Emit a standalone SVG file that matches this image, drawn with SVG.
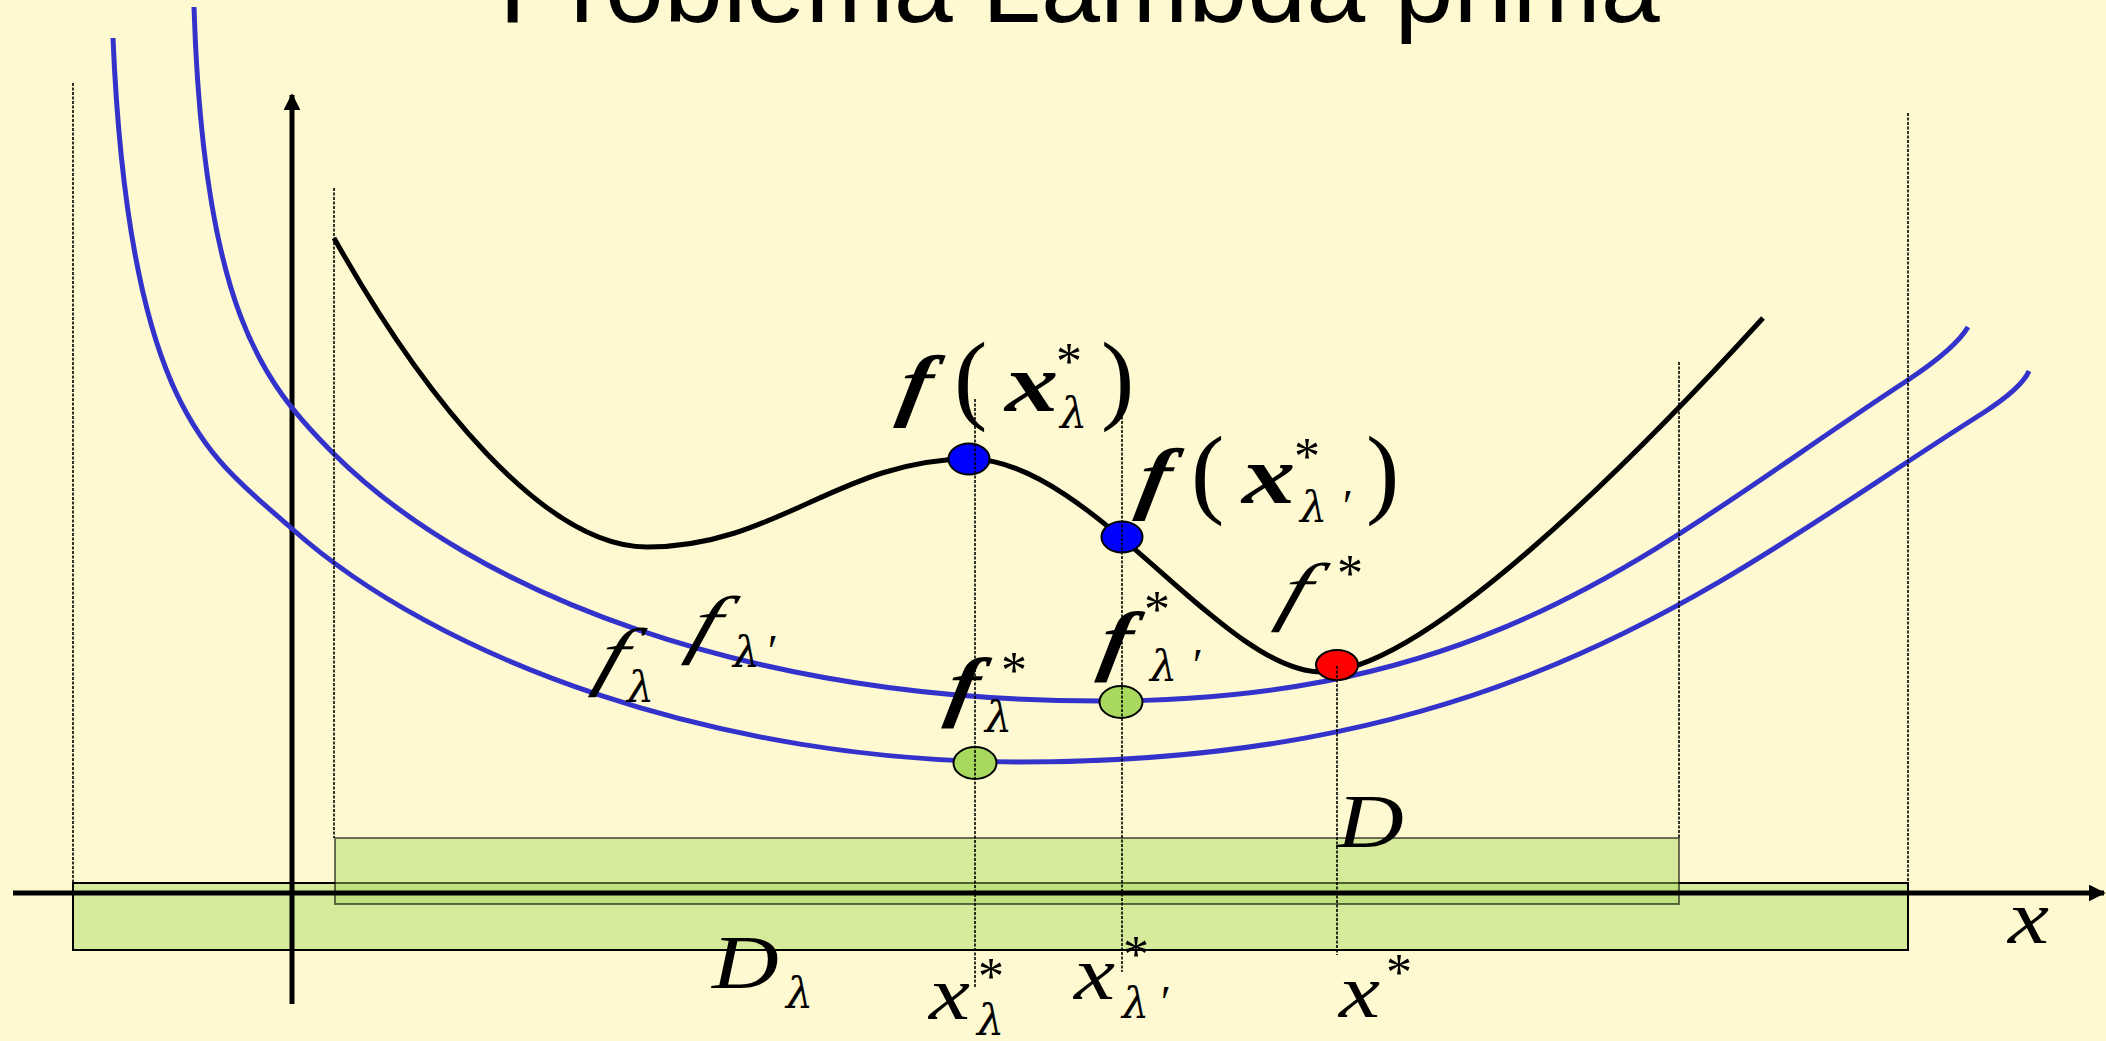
<svg xmlns="http://www.w3.org/2000/svg" width="2106" height="1041" viewBox="0 0 2106 1041">
<style>
.m{font-family:"Liberation Serif","Times New Roman",serif;font-style:italic;fill:#000}
.l{font-family:"DejaVu Serif","Liberation Serif",serif;font-style:italic;fill:#000;font-size:43px}
.s{font-family:"Liberation Serif","Times New Roman",serif;font-style:normal;fill:#000;font-size:52px}
.b{font-weight:bold}
.up{font-style:normal}
.dot{stroke:#000;stroke-width:1.6;stroke-dasharray:3 1.5;fill:none}
.blue{fill:none;stroke:#3333CC;stroke-width:5}
.blk{fill:none;stroke:#000;stroke-width:5}
.pt{stroke:#000;stroke-width:2}
</style>
<defs>
<marker id="ah" viewBox="0 0 10 10" refX="9" refY="5" markerWidth="3.4" markerHeight="3.4" orient="auto" markerUnits="strokeWidth">
<path d="M0,0 L10,5 L0,10 z" fill="#000"/>
</marker>
</defs>
<rect x="0" y="0" width="2106" height="1041" fill="#FEF9D0"/>
<text x="499" y="22" font-family="Liberation Sans, Arial, sans-serif" font-size="106" fill="#000">Problema Lambda prima</text>

<g id="domains">
<rect id="D-lambda" x="73" y="883" width="1835" height="67" fill="#A5D65B" fill-opacity="0.45" stroke="#000" stroke-width="2"/>
<rect id="D" x="335" y="838" width="1344" height="66" fill="#A5D65B" fill-opacity="0.45" stroke="#000" stroke-opacity="0.55" stroke-width="2"/>
</g>

<g id="connectors">
<line x1="13" y1="893" x2="2104" y2="893" stroke="#000" stroke-width="5" marker-end="url(#ah)"/>
<line x1="292" y1="1004" x2="292" y2="95" stroke="#000" stroke-width="5" marker-end="url(#ah)"/>
</g>

<g id="curves">
<path id="f" class="blk" d="M334,238 C425,400 545,547 647,547 C777,547 840,459 970,459 C1090,459 1222,672 1322,672 C1422,672 1628,466 1763,318"/>
<path id="f-lambda-prime" class="blue" d="M194,7 C203.5,307 262,382 333,453 C474,594 750,701 1100,701 C1500,701 1657,544 1908,380 C1929,366 1958,344 1968,327"/>
<path id="f-lambda" class="blue" d="M113,38 C129,418 215.7,460 290,527 C438.6,660.8 720,762 1020,762 C1520,762 1729,573 1983,413 C2000,402 2023,385 2029,371"/>
</g>

<g id="points">
<ellipse id="p-fxl" cx="969" cy="459" rx="20.5" ry="15.5" fill="#0000FF" class="pt"/>
<ellipse id="p-fxlp" cx="1122" cy="537" rx="20.5" ry="15.5" fill="#0000FF" class="pt"/>
<ellipse id="p-fstar" cx="1337" cy="665" rx="21" ry="15" fill="#FF0000" class="pt"/>
<ellipse id="p-fl" cx="975" cy="763" rx="21.5" ry="16" fill="#A8D95E" class="pt"/>
<ellipse id="p-flp" cx="1121" cy="702" rx="21.5" ry="16" fill="#A8D95E" class="pt"/>
</g>

<g id="guides">
<line class="dot" x1="73" y1="83" x2="73" y2="883"/>
<line class="dot" x1="334" y1="188" x2="334" y2="838"/>
<line class="dot" x1="975" y1="399" x2="975" y2="987"/>
<line class="dot" x1="1122" y1="385" x2="1122" y2="972"/>
<line class="dot" x1="1337" y1="666" x2="1337" y2="955"/>
<line class="dot" x1="1679" y1="362" x2="1679" y2="838"/>
<line class="dot" x1="1908" y1="113" x2="1908" y2="883"/>
</g>

<g id="label-fxl">
<text class="m b" font-size="80" transform="translate(896,411) skewX(-10) scale(1.2,1)">f</text>
<text class="m up" x="954" y="411" font-size="100">(</text>
<text class="m b" font-size="82" transform="translate(1005,411) scale(1.3,1)">x</text>
<text class="s" x="1056" y="379">*</text>
<text class="l" x="1060" y="428">λ</text>
<text class="m up" x="1101" y="411" font-size="100">)</text>
</g>
<g id="label-fxlp">
<text class="m b" font-size="80" transform="translate(1135,504) skewX(-10) scale(1.2,1)">f</text>
<text class="m up" x="1191" y="505" font-size="100">(</text>
<text class="m b" font-size="82" transform="translate(1242,503) scale(1.3,1)">x</text>
<text class="s" x="1294" y="474">*</text>
<text class="l" x="1300" y="522">λ</text>
<text class="m" x="1340" y="522" font-size="46">′</text>
<text class="m up" x="1366" y="505" font-size="100">)</text>
</g>
<g id="label-fl">
<text class="m" font-size="76" transform="translate(592,681) skewX(-18) scale(1.3,1)">f</text>
<text class="l" x="627" y="702">λ</text>
</g>
<g id="label-flp">
<text class="m" font-size="76" transform="translate(685,649) skewX(-18) scale(1.3,1)">f</text>
<text class="l" x="733" y="667">λ</text>
<text class="m" x="765" y="667" font-size="46">′</text>
</g>
<g id="label-flstar">
<text class="m b" font-size="78" transform="translate(944,712) skewX(-10) scale(1.2,1)">f</text>
<text class="s" x="1001" y="688">*</text>
<text class="l" x="985" y="732">λ</text>
</g>
<g id="label-flpstar">
<text class="m b" font-size="78" transform="translate(1097,666) skewX(-10) scale(1.2,1)">f</text>
<text class="s" x="1144" y="627">*</text>
<text class="l" x="1150" y="681">λ</text>
<text class="m" x="1190" y="681" font-size="46">′</text>
</g>
<g id="label-fstar">
<text class="m" font-size="76" transform="translate(1275,616) skewX(-18) scale(1.3,1)">f</text>
<text class="s" x="1337" y="591">*</text>
</g>
<g id="label-D">
<text class="m" font-size="77" transform="translate(1337,847) scale(1.2,1)">D</text>
</g>
<g id="label-Dl">
<text class="m" font-size="77" transform="translate(712,988) scale(1.2,1)">D</text>
<text class="l" x="786" y="1008">λ</text>
</g>
<g id="label-xl">
<text class="m" font-size="77" transform="translate(929,1019) scale(1.2,1)">x</text>
<text class="s" x="978" y="994">*</text>
<text class="l" x="977" y="1035">λ</text>
</g>
<g id="label-xlp">
<text class="m" font-size="77" transform="translate(1074,999) scale(1.2,1)">x</text>
<text class="s" x="1123" y="972">*</text>
<text class="l" x="1122" y="1018">λ</text>
<text class="m" x="1158" y="1018" font-size="46">′</text>
</g>
<g id="label-xstar">
<text class="m" font-size="77" transform="translate(1339,1017) scale(1.2,1)">x</text>
<text class="s" x="1386" y="990">*</text>
</g>
<g id="label-xaxis">
<text class="m" font-size="77" transform="translate(2008,943) scale(1.2,1)">x</text>
</g>
</svg>
